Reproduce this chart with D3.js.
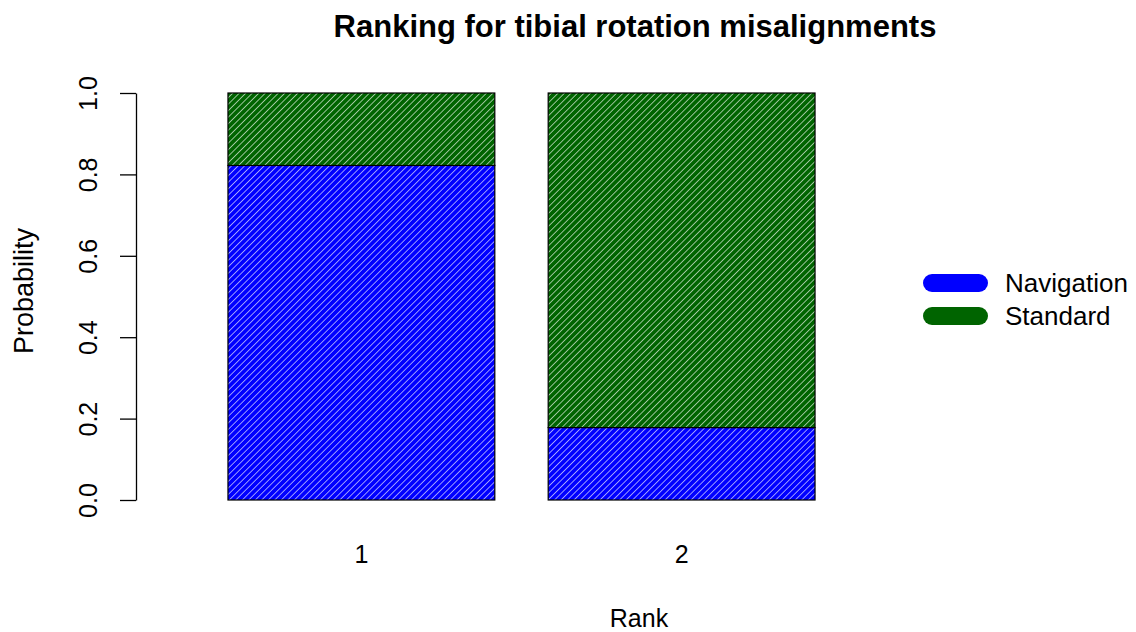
<!DOCTYPE html>
<html>
<head>
<meta charset="utf-8">
<script src="https://cdn.jsdelivr.net/npm/d3@7"></script>
<style>
  body { margin: 0; background: #fff; }
  svg { display: block; font-family: "Liberation Sans", Arial, sans-serif; }
</style>
</head>
<body>
<svg id="chart" width="1136" height="632"></svg>
<script>
// Ranks and the probability of each treatment landing at that rank
const ranks = ["1", "2"];
const treatments = ["Navigation", "Standard"];
const navigation = [0.822, 0.178];
const standard = [0.178, 0.822];
const colors = ["#0000FF", "#006400"];
const yTicks = [0, 0.2, 0.4, 0.6, 0.8, 1.0];

const svg = d3.select("#chart");
const defs = svg.append("defs");

// Dense diagonal hatching over a solid fill
colors.forEach((c, i) => {
  const p = defs.append("pattern")
    .attr("id", "hatch" + i)
    .attr("patternUnits", "userSpaceOnUse")
    .attr("width", 4.6).attr("height", 4.6)
    .attr("patternTransform", "rotate(45)");
  p.append("rect").attr("width", 4.6).attr("height", 4.6).attr("fill", c);
  p.append("line")
    .attr("x1", 0).attr("y1", 0).attr("x2", 0).attr("y2", 4.6)
    .attr("stroke", "#ffffff").attr("stroke-width", 1.4).attr("stroke-opacity", 0.85);
});

const x = d3.scaleBand().domain(ranks)
  .range([174.6, 868.4]).paddingInner(1 / 6).paddingOuter(1 / 6);
const y = d3.scaleLinear().domain([0, 1]).range([500, 93]);

// Stack the two series per rank
const rows = ranks.map((r, i) => ({ rank: r, Navigation: navigation[i], Standard: standard[i] }));
const stacked = d3.stack().keys(treatments)(rows);

svg.append("g").selectAll("g")
  .data(stacked).join("g")
  .attr("fill", (d, i) => "url(#hatch" + i + ")")
  .selectAll("rect")
  .data(d => d).join("rect")
  .attr("x", d => x(d.data.rank))
  .attr("width", x.bandwidth())
  .attr("y", d => y(d[1]))
  .attr("height", d => y(d[0]) - y(d[1]))
  .attr("stroke", "#000").attr("stroke-width", 1.2);

// Left axis with rotated tick labels
const yAxis = svg.append("g")
  .attr("transform", "translate(136,0)")
  .call(d3.axisLeft(y).tickValues(yTicks).tickFormat(d3.format(".1f")).tickSize(16).tickSizeOuter(0));
yAxis.select(".domain").attr("stroke", "#000").attr("stroke-width", 1.3);
yAxis.selectAll(".tick line").attr("stroke", "#000").attr("stroke-width", 1.3);
yAxis.selectAll(".tick text")
  .attr("font-size", 25).attr("fill", "#000")
  .attr("x", 0).attr("dy", 0)
  .attr("text-anchor", "middle")
  .attr("transform", "translate(-48,0) rotate(-90)")
  .attr("dominant-baseline", "central");

// Rank labels under the bars
svg.append("g").selectAll("text")
  .data(ranks).join("text")
  .attr("x", d => x(d) + x.bandwidth() / 2)
  .attr("y", 563)
  .attr("text-anchor", "middle")
  .attr("font-size", 25)
  .text(d => d);

// Titles
svg.append("text")
  .attr("x", 635).attr("y", 37)
  .attr("text-anchor", "middle")
  .attr("font-size", 31).attr("font-weight", "bold")
  .text("Ranking for tibial rotation misalignments");

svg.append("text")
  .attr("x", 639).attr("y", 627)
  .attr("text-anchor", "middle")
  .attr("font-size", 25)
  .text("Rank");

svg.append("text")
  .attr("transform", "translate(33,291) rotate(-90)")
  .attr("text-anchor", "middle")
  .attr("font-size", 27)
  .text("Probability");

// Legend
const legend = svg.append("g").selectAll("g")
  .data(treatments).join("g")
  .attr("transform", (d, i) => `translate(0,${283 + i * 33})`);
legend.append("line")
  .attr("x1", 932).attr("x2", 979).attr("y1", 0).attr("y2", 0)
  .attr("stroke", (d, i) => colors[i])
  .attr("stroke-width", 18).attr("stroke-linecap", "round");
legend.append("text")
  .attr("x", 1005).attr("y", 0)
  .attr("dominant-baseline", "central")
  .attr("font-size", 26)
  .text(d => d);
</script>
</body>
</html>
